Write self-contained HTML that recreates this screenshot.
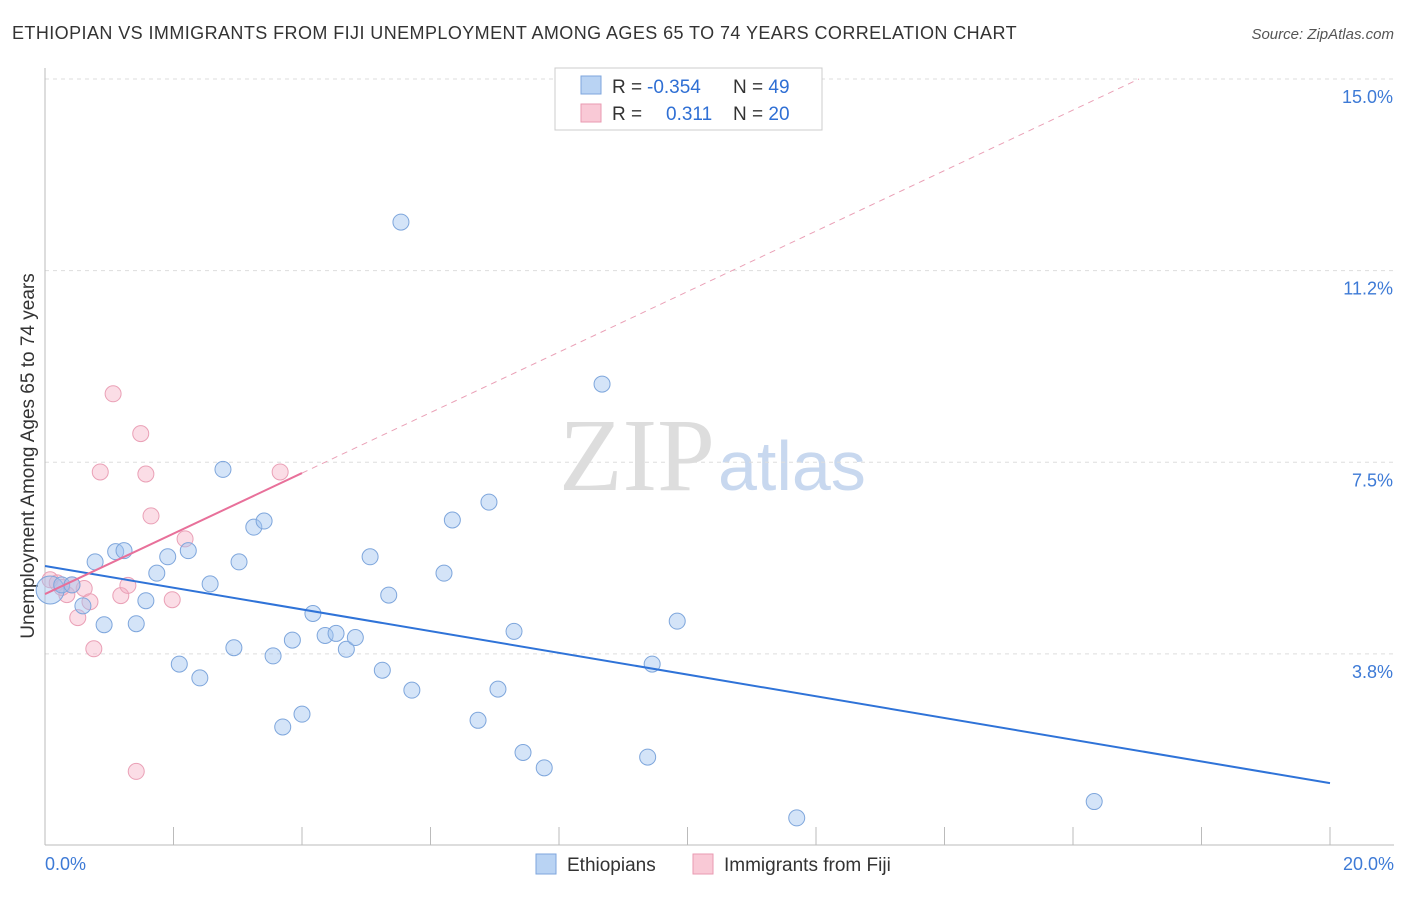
<!DOCTYPE html>
<html><head><meta charset="utf-8"><style>
body{margin:0;background:#fff;font-family:"Liberation Sans",sans-serif}
svg text{font-family:"Liberation Sans",sans-serif}
</style></head><body>
<svg id="c" width="1406" height="892" xmlns="http://www.w3.org/2000/svg">
<text x="12" y="39" font-size="18" fill="#333" letter-spacing="0.42">ETHIOPIAN VS IMMIGRANTS FROM FIJI UNEMPLOYMENT AMONG AGES 65 TO 74 YEARS CORRELATION CHART</text>
<text x="1394" y="39" font-size="15" fill="#555" font-style="italic" text-anchor="end">Source: ZipAtlas.com</text>
<text x="715" y="490" font-size="104" fill="#ddd" text-anchor="end" style="font-family:'Liberation Serif',serif">ZIP</text>
<text x="718" y="490" font-size="70" fill="#c8d8ef">atlas</text>
<text x="34" y="456" font-size="19" fill="#333" text-anchor="middle" transform="rotate(-90 34 456)">Unemployment Among Ages 65 to 74 years</text>
<g id="grid"></g><g id="marks"></g>
<g>
<rect x="555" y="68" width="267" height="62" fill="#fff" stroke="#ccc"/>
<rect x="581" y="76" width="20" height="18" fill="#b9d3f3" stroke="#7ea6dc"/>
<rect x="581" y="104" width="20" height="18" fill="#f9c9d6" stroke="#e99ab1"/>
<text y="93" font-size="19" fill="#333"><tspan x="612">R = </tspan><tspan fill="#2f6fd4" x="647">-0.354</tspan><tspan x="733">N = </tspan><tspan fill="#2f6fd4">49</tspan></text>
<text y="120" font-size="19" fill="#333"><tspan x="612">R = </tspan><tspan fill="#2f6fd4" x="666">0.311</tspan><tspan x="733">N = </tspan><tspan fill="#2f6fd4">20</tspan></text>
</g>
<g>
<rect x="536" y="854" width="20" height="20" fill="#b9d3f3" stroke="#7ea6dc"/>
<text x="567" y="871" font-size="19" fill="#333">Ethiopians</text>
<rect x="693" y="854" width="20" height="20" fill="#f9c9d6" stroke="#e99ab1"/>
<text x="724" y="871" font-size="19" fill="#333">Immigrants from Fiji</text>
</g>
</svg>
<script>
const yTicks=[15,11.25,7.5,3.75];
const yTickLabels=["15.0%","11.2%","7.5%","3.8%"];
const xTicks=[0,2,4,6,8,10,12,14,16,18,20];
const blueX=[0.08,0.26,0.42,0.78,0.59,0.92,1.1,1.23,1.42,1.57,1.74,1.91,2.09,2.23,2.41,2.57,2.77,2.94,3.02,3.25,3.41,3.55,3.7,3.85,4.0,4.17,4.36,4.53,4.69,4.83,5.06,5.25,5.35,5.54,5.71,6.21,6.34,6.74,6.91,7.05,7.3,7.44,7.77,8.67,9.38,9.45,9.84,11.7,16.33];
const blueY=[5.0,5.1,5.1,5.55,4.69,4.32,5.75,5.77,4.34,4.79,5.33,5.65,3.55,5.77,3.28,5.12,7.36,3.87,5.55,6.23,6.35,3.71,2.32,4.02,2.57,4.54,4.11,4.15,3.84,4.07,5.65,3.43,4.9,12.2,3.04,5.33,6.37,2.45,6.72,3.06,4.19,1.82,1.52,9.03,1.73,3.55,4.39,0.54,0.86];
const pinkX=[0.08,0.19,0.34,0.51,0.61,0.7,0.76,0.86,1.06,1.18,1.29,1.42,1.49,1.57,1.65,1.98,2.18,3.66,0.26,0.42];
const pinkY=[5.2,5.14,4.91,4.46,5.03,4.77,3.85,7.31,8.84,4.89,5.09,1.45,8.06,7.27,6.45,4.81,6.0,7.31,5.05,5.1];
const blueFit=[5.47,-0.2125];
const pinkFit=[4.92,0.592];
const X=v=>45+v*64.25, Y=v=>79+(15-v)*51.1;
const NS="http://www.w3.org/2000/svg";
const g=document.getElementById('grid'), m=document.getElementById('marks');
function el(t,a,p){const e=document.createElementNS(NS,t);for(const k in a)e.setAttribute(k,a[k]);p.appendChild(e);return e;}
yTicks.forEach((v,i)=>{
 const l=el('line',{x1:45,x2:1394,y1:Y(v),y2:Y(v),stroke:'#ddd','stroke-dasharray':'4,4'},g);
 
 
 const t=el('text',{x:1393,y:Y(v)+24,'font-size':18,fill:'#3d7ad6','text-anchor':'end'},g);t.textContent=yTickLabels[i];
 
 
});
const ax=el('line',{x1:45,x2:1394,y1:845,y2:845,stroke:'#bbb'},g);


const ay=el('line',{x1:45,x2:45,y1:68,y2:845,stroke:'#bbb'},g);


xTicks.forEach(v=>{const l=el('line',{x1:X(v),x2:X(v),y1:827,y2:845,stroke:'#bbb'},g);
 
 });
[["0.0%",45,'start'],["20.0%",1394,'end']].forEach(a=>{const t=el('text',{x:a[1],y:870,'font-size':18,fill:'#3d7ad6','text-anchor':a[2]},g);t.textContent=a[0];
 
 });
pinkX.forEach((x,i)=>{const c=el('circle',{cx:X(x),cy:Y(pinkY[i]),r:8,fill:'rgba(244,170,192,0.4)',stroke:'#eaa0b6','stroke-width':1},m);
 
 });
blueX.forEach((x,i)=>{const c=el('circle',{cx:X(x),cy:Y(blueY[i]),r:i===0?14:8,fill:'rgba(160,195,240,0.45)',stroke:'#7ea6dc','stroke-width':1},m);
 
 });
const bl=el('line',{x1:X(0),y1:Y(blueFit[0]),x2:X(20),y2:Y(blueFit[0]+20*blueFit[1]),stroke:'#2f73d8','stroke-width':2},m);


const pEnd=4, pFar=(15-pinkFit[0])/pinkFit[1];
const pl=el('line',{x1:X(0),y1:Y(pinkFit[0]),x2:X(pEnd),y2:Y(pinkFit[0]+pEnd*pinkFit[1]),stroke:'#e8709a','stroke-width':2},m);


const pd=el('line',{x1:X(pEnd),y1:Y(pinkFit[0]+pEnd*pinkFit[1]),x2:X(pFar),y2:Y(15),stroke:'#eaa0b6','stroke-width':1,'stroke-dasharray':'6,5'},m);


</script>
</body></html>
